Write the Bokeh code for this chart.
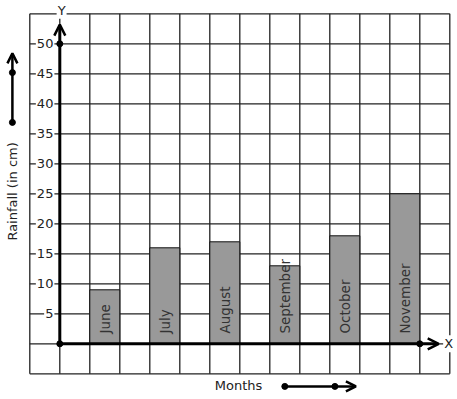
import math
from bokeh.plotting import figure
from bokeh.models import Range1d, Arrow, OpenHead
from bokeh.core.properties import value
from bokeh.embed import file_html
from bokeh.resources import INLINE

# ---- data ----
months = ["June", "July", "August", "September", "October", "November"]
rainfall = [9, 16, 17, 13, 18, 25]
y_ticks = [5, 10, 15, 20, 25, 30, 35, 40, 45, 50]
grid_x = list(range(-1, 14))
grid_y = list(range(-5, 56, 5))
x_axis_end = 12.63
y_axis_end = 53.2

FONT = value("DejaVu Sans")
W, H = 457, 399
PX_X, PX_Y = 30.0, 6.0
x_start = -59.3 / PX_X
y_end = 343.3 / PX_Y

p = figure(width=W, height=H,
           x_range=Range1d(x_start, x_start + W / PX_X),
           y_range=Range1d(y_end - H / PX_Y, y_end),
           x_axis_location=None, y_axis_location=None,
           output_backend="svg", toolbar_location=None, min_border=0)
p.grid.visible = False
p.outline_line_color = None
p.background_fill_color = "white"
p.border_fill_color = "white"

# grid
nx, ny = len(grid_x), len(grid_y)
p.segment(x0=grid_x, y0=[grid_y[0]] * nx, x1=grid_x, y1=[grid_y[-1]] * nx,
          line_color="#222222", line_width=1.3)
p.segment(x0=[grid_x[0]] * ny, y0=grid_y, x1=[grid_x[-1]] * ny, y1=grid_y,
          line_color="#222222", line_width=1.3)

# bars
centers = [1.5 + 2 * i for i in range(len(months))]
p.vbar(x=centers, top=rainfall, bottom=0, width=1.0,
       fill_color="#999999", line_color="#111111", line_width=1)
p.text(x=centers, y=[1.7] * len(months), text=months, angle=math.pi / 2,
       text_align="left", text_baseline="middle", text_font=FONT,
       text_font_size="13.5px", text_color="#333333")

# tick labels
p.text(x=[-0.18] * len(y_ticks), y=y_ticks, text=[str(t) for t in y_ticks],
       text_align="right", text_baseline="middle", text_font=FONT,
       text_font_size="13px", text_color="#222222",
       background_fill_color="white", padding=1)

# axes with arrows
p.add_layout(Arrow(x_start=0, y_start=0, x_end=0, y_end=y_axis_end,
                   line_width=3, line_color="black",
                   end=OpenHead(size=11, line_width=2.5, line_color="black")))
p.add_layout(Arrow(x_start=0, y_start=0, x_end=x_axis_end, y_end=0,
                   line_width=3, line_color="black",
                   end=OpenHead(size=11, line_width=2.5, line_color="black")))
p.scatter(x=[0, 0, 12], y=[0, 50, 0], size=6, color="black")

p.text(x=[0.06], y=[55.6], text=["Y"], text_align="center", text_baseline="middle",
       text_font=FONT, text_font_size="13px", text_color="#222222",
       background_fill_color="white", padding=1)
p.text(x=[12.96], y=[0], text=["X"], text_align="center", text_baseline="middle",
       text_font=FONT, text_font_size="13px", text_color="#222222",
       background_fill_color="white", padding=1)

# left axis title and arrow
p.text(x=[-1.58], y=[25.4], text=["Rainfall (in cm)"], angle=math.pi / 2,
       text_align="center", text_baseline="middle", text_font=FONT,
       text_font_size="13px", text_color="#222222")
p.add_layout(Arrow(x_start=-1.58, y_start=36.9, x_end=-1.58, y_end=48.4,
                   line_width=2.5, line_color="black",
                   end=OpenHead(size=10, line_width=2.5, line_color="black")))
p.scatter(x=[-1.58, -1.58], y=[36.9, 45.2], size=6, color="black")

# bottom axis title and arrow
p.text(x=[5.96], y=[-6.95], text=["Months"], text_align="center", text_baseline="middle",
       text_font=FONT, text_font_size="13px", text_color="#222222")
p.add_layout(Arrow(x_start=7.5, y_start=-7.1, x_end=9.87, y_end=-7.1,
                   line_width=2.5, line_color="black",
                   end=OpenHead(size=10, line_width=2.5, line_color="black")))
p.scatter(x=[7.5, 9.17], y=[-7.1, -7.1], size=6, color="black")

open("out.html", "w").write(file_html(p, INLINE))
